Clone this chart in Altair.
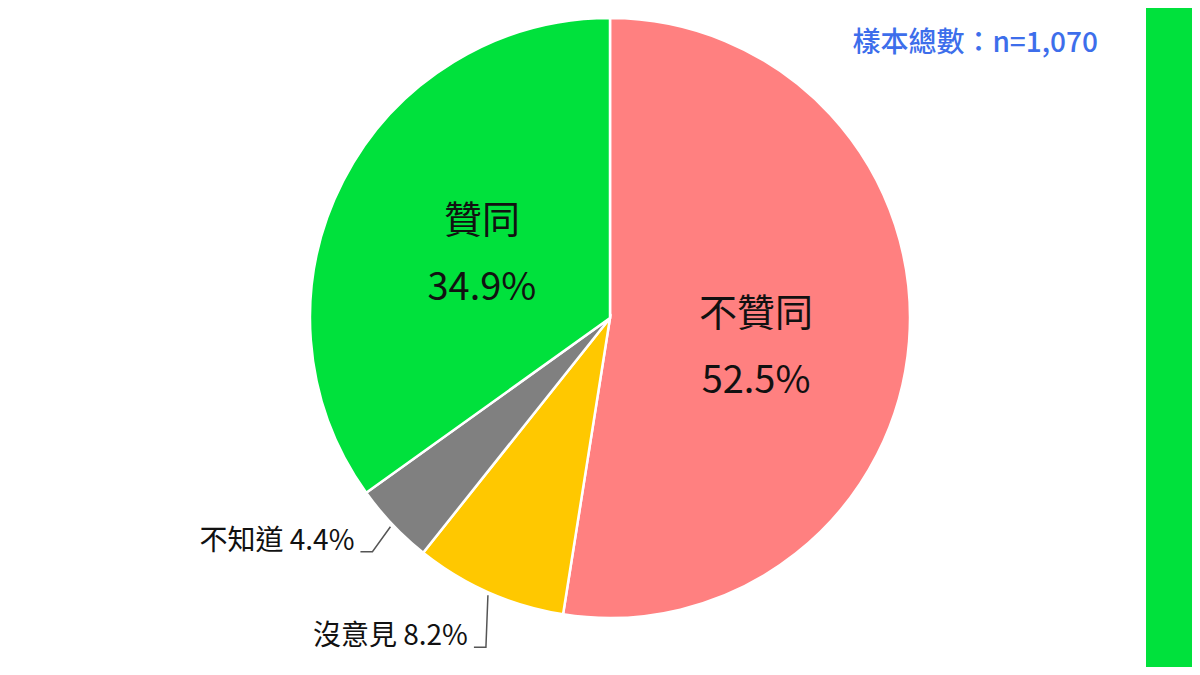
import math
import altair as alt
import pandas as pd

# ---- data ----
categories = ["不贊同", "沒意見", "不知道", "贊同"]
values = [52.5, 8.2, 4.4, 34.9]
colors = ["#FF8080", "#FFC800", "#808080", "#00E13C"]
inside = ["不贊同", "贊同"]
outside = ["沒意見", "不知道"]
note = "樣本總數：n=1,070"

# ---- layout / style ----
W, H = 1184, 659
CX, CY, R = 602, 310, 300
FONT = "Noto Sans CJK TC"
inner_pos = {"贊同": (144, -30), "不贊同": (146.5, -14.5)}  # (radius, dy)
elbow = {"不知道": (-18, 25), "沒意見": (-2, 52)}
tail = 12

df = pd.DataFrame({
    "category": categories,
    "value": values,
    "order": list(range(len(categories))),
})
for c in inside:
    df["lab_" + c] = [f"{k}\n{v:.1f}%" if k == c else "" for k, v in zip(categories, values)]

total = sum(values)
cum = 0.0
mids = {}
for c, v in zip(categories, values):
    mids[c] = (cum + v / 2) / total * 2 * math.pi
    cum += v

lead_rows, lab_rows = [], []
for c in outside:
    a = mids[c]
    x1, y1 = CX + (R + 3) * math.sin(a), CY - (R + 3) * math.cos(a)
    ex, ey = elbow[c]
    x2, y2 = x1 + ex, y1 + ey
    x3, y3 = x2 - tail, y2
    for i, (px, py) in enumerate([(x1, y1), (x2, y2), (x3, y3)]):
        lead_rows.append({"category": c, "seq": i, "px": px, "py": py})
    v = values[categories.index(c)]
    lab_rows.append({"label": f"{c} {v:.1f}%", "px": x3 - 6, "py": y3 - 10})
lead_df = pd.DataFrame(lead_rows)
lab_df = pd.DataFrame(lab_rows)

base = alt.Chart(df).encode(
    theta=alt.Theta("value:Q", stack=True),
    order=alt.Order("order:Q"),
)

arcs = base.mark_arc(outerRadius=R, stroke="white", strokeWidth=2.5).encode(
    x=alt.value(CX), y=alt.value(CY),
    color=alt.Color("category:N", scale=alt.Scale(domain=categories, range=colors), legend=None),
)

inner_layers = []
for c in inside:
    r, dy = inner_pos[c]
    inner_layers.append(
        base.mark_text(
            radius=r, dy=dy, font=FONT, fontSize=38, lineBreak="\n", lineHeight=67,
            color="#111111",
        ).encode(x=alt.value(CX), y=alt.value(CY), text=alt.Text(f"lab_{c}:N"))
    )

leaders = alt.Chart(lead_df).mark_line(color="#555555", strokeWidth=1.5).encode(
    x=alt.X("px:Q", scale=None), y=alt.Y("py:Q", scale=None),
    detail="category:N", order="seq:Q",
)

out_text = alt.Chart(lab_df).mark_text(
    font=FONT, fontSize=28, align="right", baseline="middle", color="#111111"
).encode(x=alt.X("px:Q", scale=None), y=alt.Y("py:Q", scale=None), text="label:N")

note_text = alt.Chart(pd.DataFrame({"t": [note]})).mark_text(
    font=FONT, fontSize=28, fontWeight=500, align="right", baseline="middle", color="#3D6EEB"
).encode(x=alt.value(1090), y=alt.value(36), text="t:N")

bar = alt.Chart(pd.DataFrame({"k": [0]})).mark_rect(color="#00E13C").encode(
    x=alt.value(1138), x2=alt.value(W), y=alt.value(0), y2=alt.value(H)
)

chart = alt.layer(arcs, *inner_layers, leaders, out_text, note_text, bar).properties(
    width=W, height=H, padding=0, background="white",
    autosize=alt.AutoSizeParams(type="none"),
).configure_view(strokeWidth=0, stroke="transparent")

chart.save("out.html", embed_options={"renderer": "svg", "actions": False})
